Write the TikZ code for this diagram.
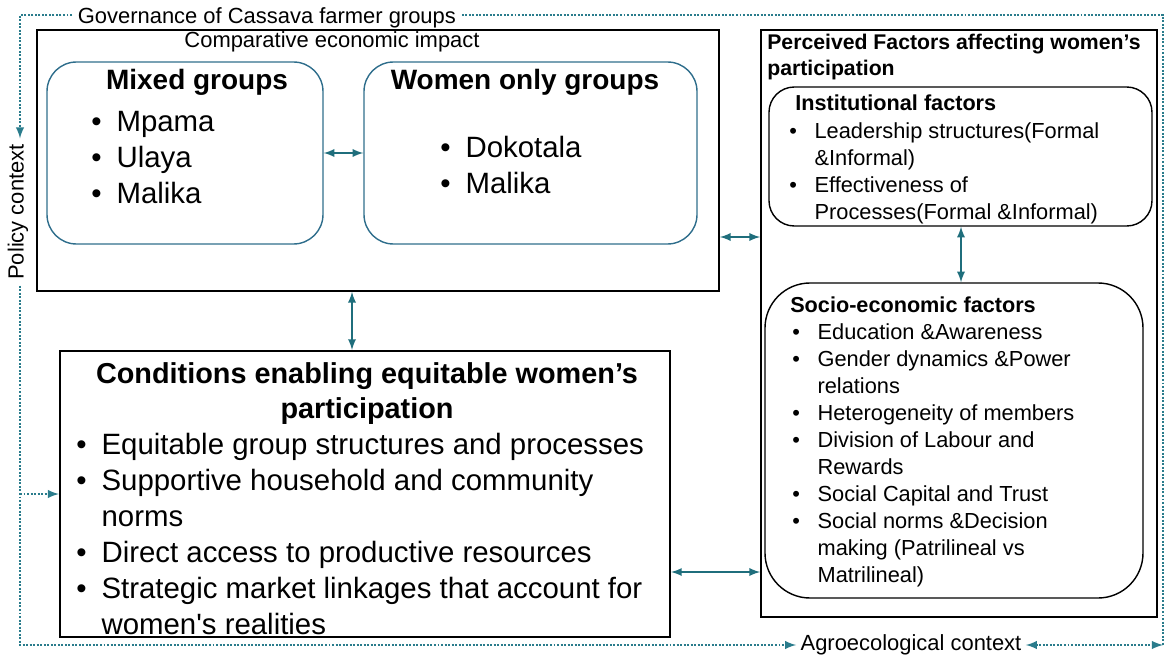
\documentclass[tikz,border=0pt]{standalone}
\usepackage{fontspec}
\setmainfont{Liberation Sans}
\usepackage{tikz}
\usetikzlibrary{arrows,positioning,fit}

\definecolor{linkteal}{HTML}{1F6E7C}
\definecolor{groupblue}{HTML}{2F6E8C}
\definecolor{frameteal}{HTML}{2A7C8C}

% bullet and hanging indent for the item lists
\newcommand{\bul}{\strut\makebox[18pt][l]{\textbullet}}
\newcommand{\cont}{\strut\hspace*{18pt}}

\tikzset{
  panel/.style={draw=black, line width=1.2pt, inner sep=0pt},
  grp/.style={draw=groupblue, line width=1pt, rounded corners=21pt, inner sep=0pt},
  factbox/.style={draw=black, line width=1pt, inner sep=0pt},
  link/.style={<->, draw=linkteal, line width=1.6pt},
  frame/.style={draw=frameteal, line width=1.7pt, dash pattern=on 1.4pt off 1.1pt},
  lbl/.style={inner sep=4pt, font=\fontsize{15.6}{18}\selectfont},
  grptitle/.style={inner sep=0pt, font=\bfseries\fontsize{19.9}{24}\selectfont},
  biglist/.style={inner sep=0pt, align=left, font=\fontsize{20.9}{25.6}\selectfont},
  condtitle/.style={inner sep=0pt, align=center, font=\bfseries\fontsize{20.5}{24.9}\selectfont},
  facthead/.style={inner sep=0pt, align=left, font=\bfseries\fontsize{15.1}{18.5}\selectfont},
  subhead/.style={inner sep=0pt, font=\bfseries\fontsize{15.4}{18}\selectfont},
  smalllist/.style={inner sep=0pt, align=left, font=\fontsize{15.5}{19.2}\selectfont}
}

\begin{document}
\begin{tikzpicture}[x=0.025cm, y=-0.025cm, >=latex]
  \useasboundingbox (0,0) rectangle (1172,657);

  % comparison of group types
  \node[panel, fit={(37,30) (719,291)}] (cmp) {};
  \node[lbl, anchor=base, inner sep=0pt] (cmphead) at (332,48) {Comparative economic impact};
  \node[grp, fit={(47,62) (323,244)}] (mixed) {};
  \node[grp, fit={(364,62) (697,244)}] (women) {};
  \node[grptitle, anchor=base] (mixedhead) at (197,90) {Mixed groups};
  \node[biglist, anchor=north west] (mixedlist) at (91,106) {\bul Mpama\\ \bul Ulaya\\ \bul Malika};
  \node[grptitle, anchor=base] (womenhead) at (525,90) {Women only groups};
  \node[biglist, anchor=north west] (womenlist) at (440,132) {\bul Dokotala\\ \bul Malika};

  % enabling conditions
  \node[panel, line width=1.5pt, fit={(60,351) (670,637)}] (cond) {};
  \node[condtitle, anchor=north] (condhead) at (367,359)
    {\strut Conditions enabling equitable women’s\\ \strut participation};
  \node[biglist, anchor=north west] (condlist) at (76,429)
    {\bul Equitable group structures and processes\\
     \bul Supportive household and community\\
     \cont norms\\
     \bul Direct access to productive resources\\
     \bul Strategic market linkages that account for\\
     \cont women\textquotesingle s realities};

  % perceived factors
  \node[panel, fit={(761,30) (1157,617)}] (facts) {};
  \node[facthead, anchor=north west] (factshead) at (767,31)
    {\strut Perceived Factors affecting women’s\\ \strut participation};
  \node[factbox, rounded corners=18pt, fit={(769,87) (1152,226)}] (inst) {};
  \node[subhead, anchor=base west] (insthead) at (795,111) {Institutional factors};
  \node[smalllist, anchor=north west] (instlist) at (789,119)
    {\bul Leadership structures(Formal\\
     \cont \&Informal)\\
     \bul Effectiveness of\\
     \cont Processes(Formal \&Informal)};
  \node[factbox, rounded corners=32pt, fit={(765,283) (1143,598)}] (socio) {};
  \node[subhead, anchor=base west] (sociohead) at (790,312) {Socio-economic factors};
  \node[smalllist, anchor=north west] (sociolist) at (792,320)
    {\bul Education \&Awareness\\
     \bul Gender dynamics \&Power\\
     \cont relations\\
     \bul Heterogeneity of members\\
     \bul Division of Labour and\\
     \cont Rewards\\
     \bul Social Capital and Trust\\
     \bul Social norms \&Decision\\
     \cont making (Patrilineal vs\\
     \cont Matrilineal)};

  % links between the blocks
  \draw[link] (mixed.east) -- (women.west);
  \draw[link] (cmp.south -| 352,0) -- (cond.north -| 352,0);
  \draw[link] (cmp.east |- 0,237) -- (facts.west |- 0,237);
  \draw[link] (inst.south -| 961,0) -- (socio.north -| 961,0);
  \draw[link] (cond.east |- 0,572) -- (facts.west |- 0,572);

  % context frame
  \node[lbl, anchor=base west] (gov) at (72,24) {Governance of Cassava farmer groups};
  \node[lbl, rotate=90] (policy) at (18,212) {Policy context};
  \node[lbl, inner sep=3pt] (agro) at (911,645) {Agroecological context};
  \coordinate (tl) at (20,15);
  \coordinate (tr) at (1163,15);
  \coordinate (bl) at (20,645);
  \coordinate (br) at (1163,645);
  \coordinate (pc) at (20,494);
  \draw[frame, ->] (tl -| gov.west) -- (tl) -- (tl |- policy.east);
  \draw[frame] (tl -| gov.east) -- (tr) -- (br);
  \draw[frame, ->] (bl |- policy.west) -- (bl) -- (bl -| agro.west);
  \draw[frame, <->] (br -| agro.east) -- (br);
  \draw[frame, ->] (pc) -- (pc -| cond.west);
\end{tikzpicture}
\end{document}
